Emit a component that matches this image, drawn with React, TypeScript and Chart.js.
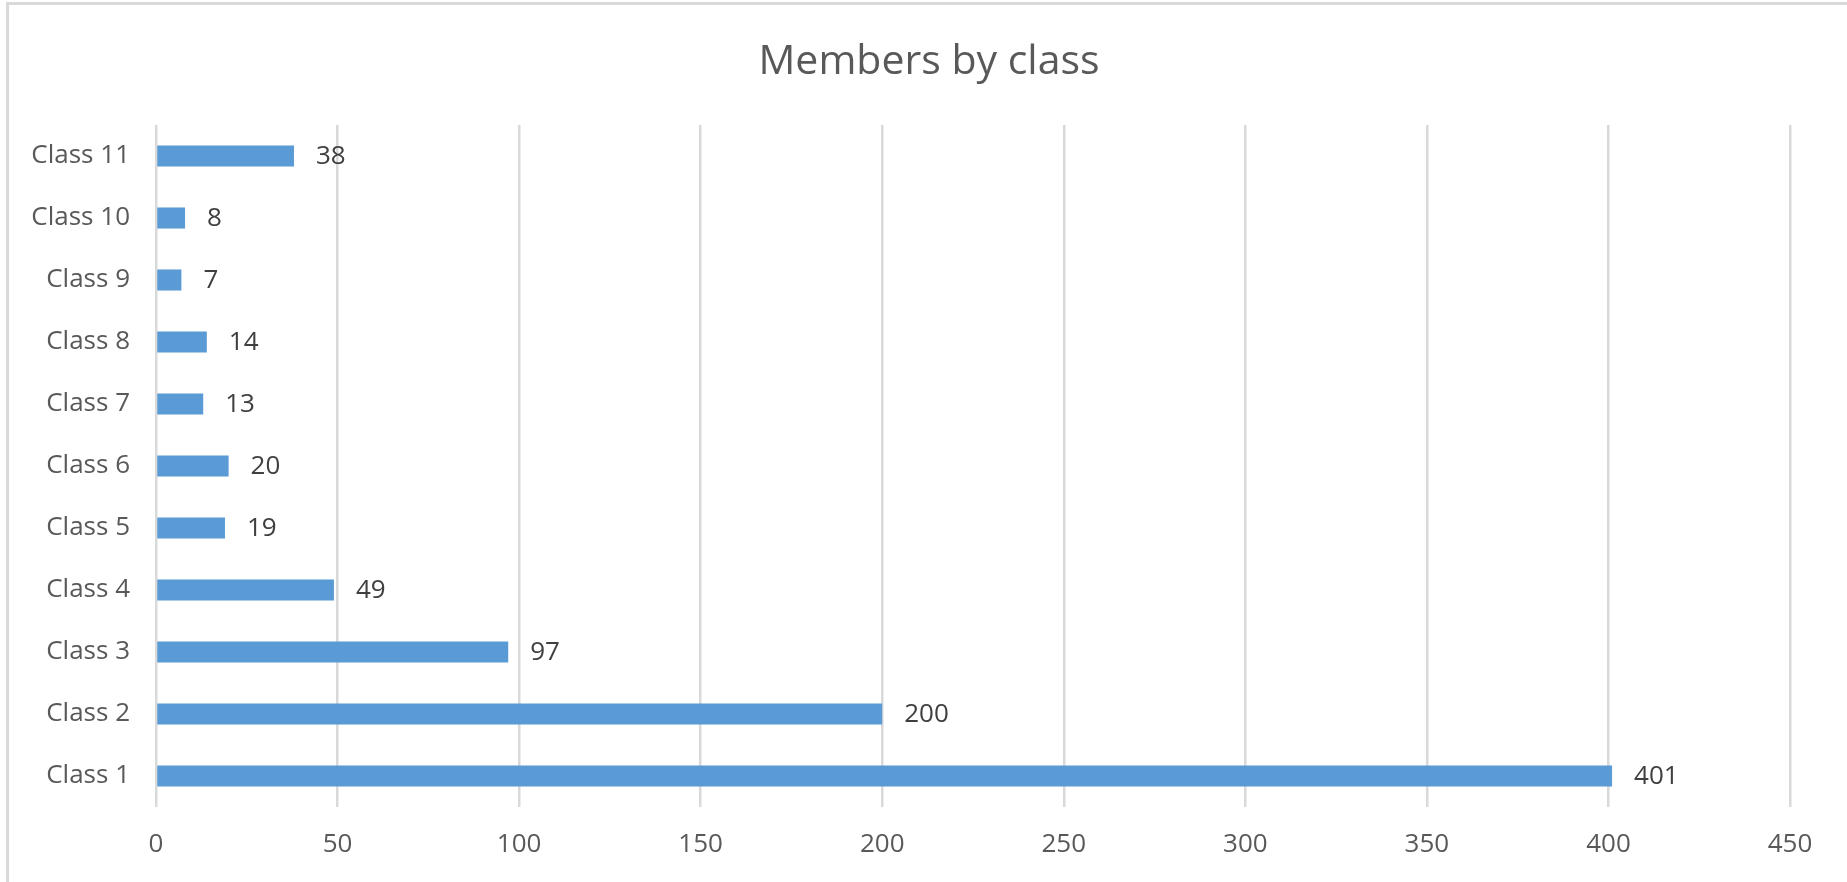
import React, { useEffect, useRef } from "react";
import { Chart, registerables } from "chart.js";

Chart.register(...registerables);

const categories = ["Class 1", "Class 2", "Class 3", "Class 4", "Class 5", "Class 6", "Class 7", "Class 8", "Class 9", "Class 10", "Class 11"];
const members = [401, 200, 97, 49, 19, 20, 13, 14, 7, 8, 38];
const xTicksMin = 0;
const xTicksMax = 450;
const xTicksStep = 50;
const chartTitle = "Members by class";

const FONT = "'Open Sans', 'Noto Sans', sans-serif";

const frameAndLabels = {
  id: "frameAndLabels",
  beforeDraw(chart: any) {
    const ctx = chart.ctx;
    ctx.save();
    ctx.fillStyle = "#ffffff";
    ctx.fillRect(0, 0, chart.width, chart.height);
    ctx.strokeStyle = "#d9d9d9";
    ctx.lineWidth = 3;
    ctx.beginPath();
    ctx.moveTo(7.5, chart.height);
    ctx.lineTo(7.5, 3.5);
    ctx.lineTo(chart.width, 3.5);
    ctx.stroke();
    ctx.fillStyle = "#595959";
    ctx.font = `41px ${FONT}`;
    ctx.textAlign = "center";
    ctx.textBaseline = "middle";
    ctx.fillText(chartTitle, 929, 62);
    ctx.restore();
  },
  afterDatasetsDraw(chart: any) {
    const ctx = chart.ctx;
    const meta = chart.getDatasetMeta(0);
    const data = chart.data.datasets[0].data;
    ctx.save();
    ctx.fillStyle = "#404040";
    ctx.font = `26px ${FONT}`;
    ctx.textAlign = "left";
    ctx.textBaseline = "middle";
    meta.data.forEach((el: any, i: number) => {
      ctx.fillText(String(data[i]), el.x + 22, el.y + 1);
    });
    ctx.restore();
  },
};

export default function App() {
  const ref = useRef<HTMLCanvasElement | null>(null);
  useEffect(() => {
    if (!ref.current) return;
    const chart = new Chart(ref.current, {
      type: "bar",
      data: {
        labels: categories,
        datasets: [
          {
            data: members,
            backgroundColor: "#5b9bd5",
            borderWidth: 0,
            barPercentage: 0.34,
            categoryPercentage: 1,
          },
        ],
      },
      options: {
        indexAxis: "y",
        animation: false,
        responsive: false,
        maintainAspectRatio: false,
        layout: { padding: { left: 0, right: 57, top: 125, bottom: 0 } },
        plugins: {
          legend: { display: false },
          tooltip: { enabled: false },
          title: { display: false },
        },
        scales: {
          x: {
            min: xTicksMin,
            max: xTicksMax,
            ticks: {
              stepSize: xTicksStep,
              color: "#595959",
              font: { family: FONT, size: 26 },
              padding: 22,
              maxRotation: 0,
            },
            grid: { color: "#d9d9d9", lineWidth: 2.5, drawTicks: false },
            border: { display: false },
            afterFit(scale: any) {
              scale.height = 75;
            },
          },
          y: {
            reverse: true,
            ticks: {
              color: "#595959",
              font: { family: FONT, size: 26 },
              padding: 26,
            },
            grid: { display: false, drawTicks: false },
            border: { display: false },
            afterFit(scale: any) {
              scale.width = 156;
            },
          },
        },
      },
      plugins: [frameAndLabels],
    } as any);
    return () => chart.destroy();
  }, []);
  return (
    <div style={{ position: "fixed", left: 0, top: 0, width: 1847, height: 882, background: "#fff" }}>
      <canvas ref={ref} width={1847} height={882} style={{ display: "block", width: 1847, height: 882 }} />
    </div>
  );
}
